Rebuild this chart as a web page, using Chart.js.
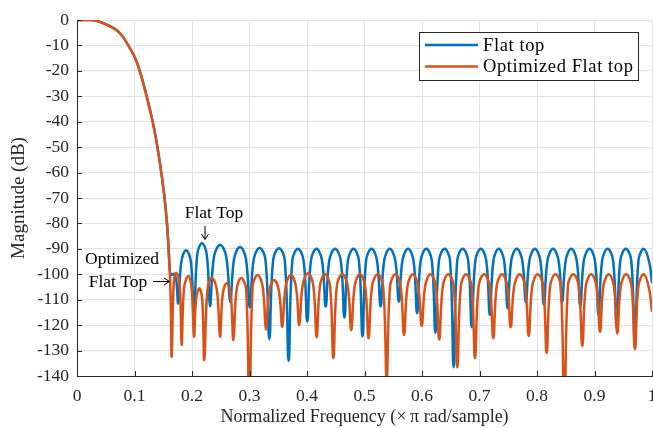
<!DOCTYPE html>
<html>
<head>
<meta charset="utf-8">
<script src="https://cdn.jsdelivr.net/npm/chart.js@4.4.1/dist/chart.umd.min.js"></script>
<style>
  html, body { margin: 0; padding: 0; background: #fff; }
  #chart { display: block; }
</style>
</head>
<body>
<canvas id="chart" width="653" height="428"></canvas>
<script>
const seriesNames = ['Flat top', 'Optimized Flat top'];
const seriesColors = ['#0072BD', '#D95319'];
const xTicks = [0, 0.1, 0.2, 0.3, 0.4, 0.5, 0.6, 0.7, 0.8, 0.9, 1];
const yTicks = [-140, -130, -120, -110, -100, -90, -80, -70, -60, -50, -40, -30, -20, -10, 0];

// main lobe, same for both windows
const mainFreq = [0, 0.02, 0.034, 0.057, 0.0748, 0.092, 0.1038, 0.1153, 0.127, 0.1357,
    0.1443, 0.1513, 0.156, 0.1588, 0.1612];
const mainDb = [0, 0, -0.3, -2.4, -5.2, -11.1, -16.4, -24.9, -35.4, -44.6,
    -56.4, -68.2, -78.6, -88, -98];

// flat top side lobes: null, shoulder, peak, shoulder
const flatFreq = [
    0.1635, 0.168, 0.1725,
    0.176, 0.1815, 0.1898, 0.198,
    0.2035, 0.2091, 0.2174, 0.2257,
    0.2313, 0.2383, 0.2489, 0.2595,
    0.2665, 0.2733, 0.2835, 0.2937,
    0.3005, 0.3073, 0.3175, 0.3277,
    0.3345, 0.3412, 0.3513, 0.3613,
    0.368, 0.3745, 0.3843, 0.394,
    0.4005, 0.4069, 0.4165, 0.4261,
    0.4325, 0.4388, 0.4488, 0.4587,
    0.465, 0.4713, 0.4808, 0.4902,
    0.4965, 0.5028, 0.5123, 0.5217,
    0.528, 0.5343, 0.5439, 0.5535,
    0.5598, 0.5661, 0.5757, 0.5852,
    0.5915, 0.5978, 0.6074, 0.617,
    0.6233, 0.6296, 0.6392, 0.6487,
    0.655, 0.6613, 0.6708, 0.6802,
    0.6865, 0.6928, 0.7023, 0.7117,
    0.718, 0.7243, 0.7335, 0.7427,
    0.749, 0.7553, 0.7648, 0.7743,
    0.7806, 0.7869, 0.7963, 0.8057,
    0.812, 0.8183, 0.8279, 0.8374,
    0.8437, 0.85, 0.8595, 0.869,
    0.8753, 0.8816, 0.8912, 0.9007,
    0.907, 0.9133, 0.9228, 0.9323,
    0.9386, 0.9449, 0.9544, 0.9639,
    0.9702, 0.9765, 0.986, 0.9955,
    1.0
];
const flatDb = [
    -100.3, -99.8, -102,
    -111.4, -95, -90.5, -95,
    -118, -92.3, -87.8, -92.3,
    -112.5, -93, -88.5, -93,
    -111, -93.8, -89.3, -93.8,
    -113, -94.2, -89.7, -94.2,
    -125.5, -94.3, -89.8, -94.3,
    -134, -94.5, -90, -94.5,
    -118.6, -94.5, -90, -94.5,
    -112.7, -94.5, -90, -94.5,
    -117, -94.5, -90, -94.5,
    -124.5, -94.5, -90, -94.5,
    -112.7, -94.5, -90, -94.5,
    -110.8, -94.5, -90, -94.5,
    -115.3, -94.5, -90, -94.5,
    -123, -94.5, -90, -94.5,
    -136.6, -94.5, -90, -94.5,
    -120.8, -94.5, -90, -94.5,
    -116, -94.5, -90, -94.5,
    -113.4, -94.5, -90, -94.5,
    -111, -94.5, -90, -94.5,
    -112, -94.5, -90, -94.5,
    -111, -94.5, -90, -94.5,
    -112.5, -94.5, -90, -94.5,
    -116, -94.5, -90, -94.5,
    -121, -94.5, -90, -94.5,
    -129, -94.5, -90, -95.5,
    -103.5
];

// optimized flat top side lobes
const optFreq = [
    0.163,
    0.1647, 0.1682, 0.1725, 0.1785,
    0.182, 0.1863, 0.1937, 0.1992,
    0.2035, 0.2071, 0.2127, 0.2178,
    0.2214, 0.2269, 0.2345, 0.2432,
    0.2487, 0.2534, 0.2603, 0.2673,
    0.272, 0.2775, 0.2855, 0.2942,
    0.2997, 0.3055, 0.3142, 0.3229,
    0.3287, 0.3344, 0.3428, 0.3513,
    0.357, 0.3629, 0.3718, 0.3807,
    0.3866, 0.3926, 0.4017, 0.4108,
    0.4168, 0.4226, 0.4313, 0.44,
    0.4458, 0.452, 0.4614, 0.4708,
    0.477, 0.483, 0.492, 0.501,
    0.507, 0.5133, 0.5228, 0.5323,
    0.5386, 0.5446, 0.5537, 0.5627,
    0.5687, 0.5749, 0.5841, 0.5933,
    0.5995, 0.6056, 0.6148, 0.6239,
    0.63, 0.6363, 0.6457, 0.6551,
    0.6614, 0.6676, 0.6768, 0.686,
    0.6922, 0.6986, 0.7081, 0.7176,
    0.724, 0.73, 0.7391, 0.7482,
    0.7542, 0.7605, 0.7699, 0.7793,
    0.7856, 0.7918, 0.8012, 0.8106,
    0.8168, 0.8229, 0.8322, 0.8414,
    0.8475, 0.8538, 0.8632, 0.8725,
    0.8788, 0.885, 0.8942, 0.9034,
    0.9096, 0.9156, 0.9247, 0.9337,
    0.9397, 0.9458, 0.9551, 0.9643,
    0.9704, 0.9765, 0.9857, 0.9948,
    1.0
];
const optDb = [
    -110,
    -132.4, -103.9, -99.4, -103.9,
    -127.8, -105.2, -100.7, -105.2,
    -124.5, -110, -105.5, -110,
    -133.7, -106, -101.5, -106,
    -124.5, -108, -103.5, -108,
    -125.8, -106, -101.5, -106,
    -160, -104.8, -100.3, -104.8,
    -121.6, -106.7, -102.2, -106.7,
    -120.6, -104.8, -100.3, -104.8,
    -120, -104.1, -99.6, -104.1,
    -124.8, -104.5, -100, -104.5,
    -133, -104.5, -100, -104.5,
    -121.9, -104.5, -100, -104.5,
    -125.2, -104.5, -100, -104.5,
    -141, -104.5, -100, -104.5,
    -123.9, -104.5, -100, -104.5,
    -120.3, -104.5, -100, -104.5,
    -125.6, -104.5, -100, -104.5,
    -136.6, -104.5, -100, -104.5,
    -133, -104.5, -100, -104.5,
    -125.2, -104.5, -100, -104.5,
    -120.8, -104.5, -100, -104.5,
    -124.3, -104.5, -100, -104.5,
    -131, -104.5, -100, -104.5,
    -160, -104.5, -100, -104.5,
    -128.2, -104.5, -100, -104.5,
    -122.6, -104.5, -100, -104.5,
    -123.2, -104.5, -100, -104.5,
    -129.5, -104.5, -100, -105.5,
    -114.7
];

const serif = "'Liberation Serif', 'Times New Roman', serif";
const axisColor = '#262626';

function toPoints(freqs, dbs) {
    return freqs.map((f, i) => ({ x: f, y: dbs[i] }));
}

const flatPoints = toPoints(mainFreq.concat(flatFreq), mainDb.concat(flatDb));
const optPoints = toPoints(mainFreq.concat(optFreq), mainDb.concat(optDb));

// inward ticks, legend box and the two text notes
const extras = {
    id: 'extras',
    afterDraw(chart) {
        const ctx = chart.ctx;
        const xs = chart.scales.x;
        const ys = chart.scales.y;
        const area = chart.chartArea;
        ctx.save();

        ctx.strokeStyle = axisColor;
        ctx.lineWidth = 1;
        ctx.beginPath();
        xTicks.forEach(v => {
            const px = Math.round(xs.getPixelForValue(v)) + 0.5;
            ctx.moveTo(px, area.bottom);
            ctx.lineTo(px, area.bottom - 5);
        });
        yTicks.forEach(v => {
            const py = Math.round(ys.getPixelForValue(v)) + 0.5;
            ctx.moveTo(area.left, py);
            ctx.lineTo(area.left + 5, py);
        });
        ctx.stroke();

        // legend
        ctx.fillStyle = '#fff';
        ctx.fillRect(419.5, 32.5, 219, 48);
        ctx.strokeStyle = axisColor;
        ctx.strokeRect(419.5, 32.5, 219, 48);
        ctx.font = '18.5px ' + serif;
        ctx.letterSpacing = '0.6px';
        ctx.textBaseline = 'middle';
        ctx.textAlign = 'left';
        seriesNames.forEach((name, i) => {
            const y = 45 + i * 21.5;
            ctx.strokeStyle = seriesColors[i];
            ctx.lineWidth = 2.5;
            ctx.beginPath();
            ctx.moveTo(425, y);
            ctx.lineTo(478, y);
            ctx.stroke();
            ctx.fillStyle = '#000';
            ctx.fillText(name, 483, y + 1);
        });
        ctx.letterSpacing = '0px';

        // notes
        ctx.fillStyle = '#000';
        ctx.strokeStyle = '#000';
        ctx.lineWidth = 1;
        ctx.font = '17.5px ' + serif;
        ctx.textAlign = 'center';
        ctx.fillText('Flat Top', 214, 213);
        ctx.fillText('Optimized', 122, 259);
        ctx.fillText('Flat Top', 118, 282);

        ctx.beginPath();
        ctx.moveTo(205, 226);
        ctx.lineTo(205, 239);
        ctx.moveTo(201.5, 234);
        ctx.lineTo(205, 239.5);
        ctx.lineTo(208.5, 234);
        ctx.moveTo(153, 281.5);
        ctx.lineTo(169, 281.5);
        ctx.moveTo(164, 278);
        ctx.lineTo(169.5, 281.5);
        ctx.lineTo(164, 285);
        ctx.stroke();

        ctx.restore();
    }
};

new Chart(document.getElementById('chart'), {
    type: 'line',
    data: {
        datasets: [
            {
                label: seriesNames[0],
                data: flatPoints,
                borderColor: seriesColors[0],
                borderWidth: 2.5,
                pointRadius: 0,
                tension: 0.4,
                order: 2
            },
            {
                label: seriesNames[1],
                data: optPoints,
                borderColor: seriesColors[1],
                borderWidth: 2.5,
                pointRadius: 0,
                tension: 0.4,
                order: 1
            }
        ]
    },
    options: {
        responsive: false,
        animation: false,
        devicePixelRatio: 1,
        layout: { padding: { top: 20, right: 1, left: 0, bottom: 0 } },
        plugins: {
            legend: { display: false },
            tooltip: { enabled: false }
        },
        scales: {
            x: {
                type: 'linear',
                min: 0,
                max: 1,
                afterBuildTicks: s => { s.ticks = xTicks.map(v => ({ value: v })); },
                afterFit: s => { s.height = 52; s.paddingLeft = 0; s.paddingRight = 0; },
                ticks: {
                    callback: v => String(v),
                    color: axisColor,
                    font: { family: serif, size: 17.5 },
                    padding: 10,
                    maxRotation: 0,
                    autoSkip: false
                },
                grid: { color: '#e2e2e2', lineWidth: 1, drawTicks: false },
                border: { color: axisColor, width: 1 },
                title: {
                    display: true,
                    text: 'Normalized Frequency (×\u2009π rad/sample)',
                    color: axisColor,
                    font: { family: serif, size: 18 },
                    padding: { top: 0, bottom: 0 }
                }
            },
            y: {
                type: 'linear',
                min: -140,
                max: 0,
                afterBuildTicks: s => { s.ticks = yTicks.map(v => ({ value: v })); },
                afterFit: s => { s.width = 77; s.paddingTop = 0; s.paddingBottom = 0; },
                ticks: {
                    callback: v => String(v),
                    color: axisColor,
                    font: { family: serif, size: 17.5 },
                    padding: 8,
                    autoSkip: false
                },
                grid: { color: '#e2e2e2', lineWidth: 1, drawTicks: false },
                border: { color: axisColor, width: 1 },
                title: {
                    display: true,
                    text: 'Magnitude (dB)',
                    color: axisColor,
                    font: { family: serif, size: 19 },
                    padding: { top: 8, bottom: 0 }
                }
            }
        }
    },
    plugins: [extras]
});
</script>
</body>
</html>
